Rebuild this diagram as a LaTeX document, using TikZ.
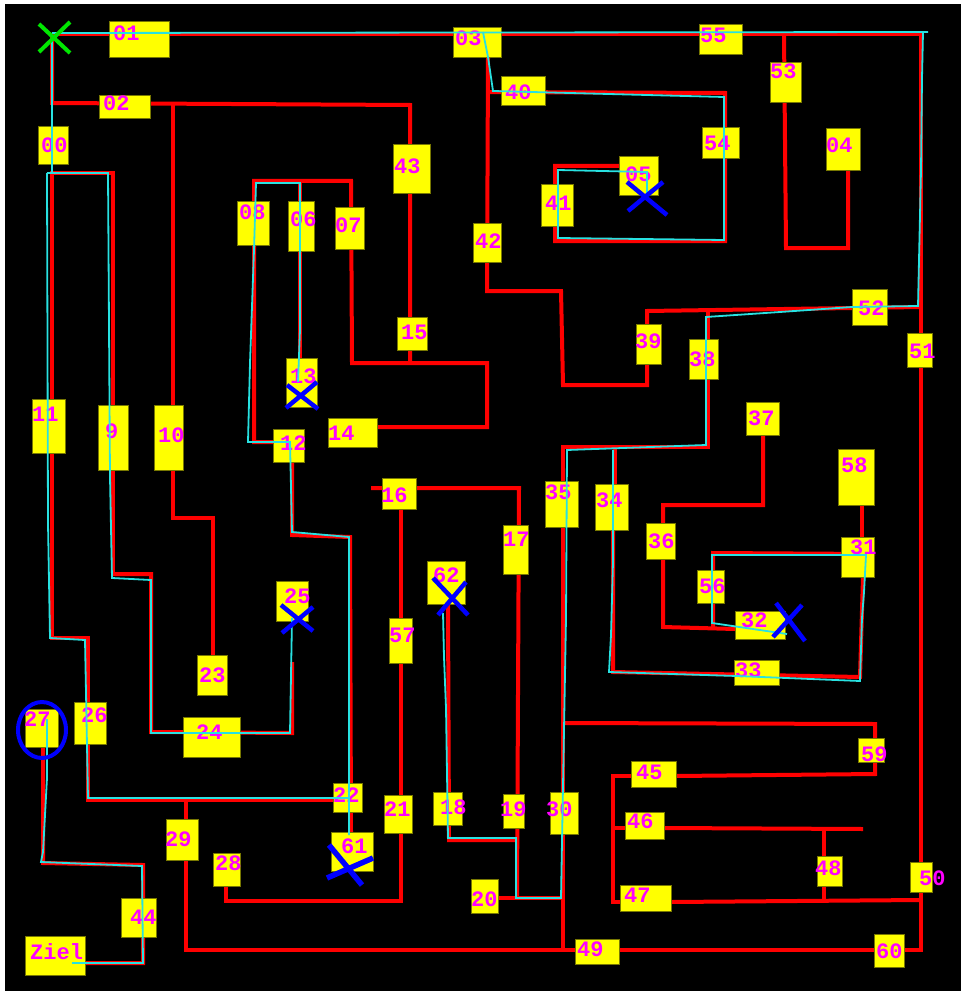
\documentclass[tikz,border=0pt]{standalone}
\usepackage{fontspec}
\newfontfamily\feldfont{Liberation Mono}
\usepackage{tikz}

\definecolor{wand}{RGB}{255,0,0}
\definecolor{weg}{RGB}{40,225,225}
\definecolor{feldgelb}{RGB}{255,255,0}
\definecolor{feldrand}{RGB}{120,120,0}
\definecolor{schrift}{RGB}{255,0,255}
\definecolor{sackgasse}{RGB}{0,0,255}
\definecolor{startgruen}{RGB}{0,230,0}

\begin{document}
\begin{tikzpicture}[x=1pt,y=-1pt,
  wall/.style={wand,line width=4pt,line join=miter},
  weglinie/.style={weg,line width=1.8pt},
  feld/.style={fill=feldgelb,draw=feldrand,line width=0.8pt},
  lbl/.style={text=schrift,font={\feldfont\bfseries\fontsize{22}{22}\selectfont},
    inner sep=0pt,anchor=base west,xshift=-2pt},
  kreuz/.style={sackgasse,line width=4.5pt}]
  \useasboundingbox (0,0) rectangle (962,992);
  \fill[white] (0,0) rectangle (962,992);
  \fill[black] (5,4) rectangle (961,991);

  % Walls of the maze
  \draw[wall] (52,34) -- (921,34) -- (921,950) -- (186,950) -- (186,800);
  \draw[wall] (52,34) -- (52,103) -- (410,105) -- (410,363);
  \draw[wall] (173,103) -- (173,518) -- (213,518) -- (213,655);
  \draw[wall] (113,574) -- (113,173) -- (52,173) -- (52,638) -- (88,638) -- (88,800) -- (333,800);
  \draw[wall] (113,574) -- (151,574) -- (151,732) -- (292,733) -- (292,662);
  \draw[wall] (280,442) -- (254,442) -- (254,181) -- (351,181) -- (352,363) -- (487,363)
    -- (487,427) -- (377,427);
  \draw[wall] (300,181) -- (300,358);
  \draw[wall] (292,462) -- (292,535) -- (350,537) -- (351,832);
  \draw[wall] (226,886) -- (226,901) -- (401,901) -- (401,488);
  \draw[wall] (371,488) -- (519,488) -- (517,898);
  \draw[wall] (498,898) -- (563,898);
  \draw[wall] (448,604) -- (449,840) -- (517,840);
  \draw[wall] (563,950) -- (563,447) -- (708,447) -- (708,311);
  \draw[wall] (921,307) -- (647,311) -- (647,385) -- (563,385) -- (561,291) -- (487,291) -- (488,57);
  \draw[wall] (488,92) -- (725,93) -- (725,241) -- (555,241) -- (555,166) -- (619,166);
  \draw[wall] (784,34) -- (786,248) -- (848,248) -- (848,170);
  \draw[wall] (763,435) -- (763,505) -- (663,505) -- (663,627) -- (735,629);
  \draw[wall] (713,628) -- (713,553) -- (875,554);
  \draw[wall] (862,505) -- (862,537);
  \draw[wall] (863,577) -- (860,677) -- (613,672) -- (613,530);
  \draw[wall] (615,447) -- (615,484);
  \draw[wall] (563,723) -- (875,724) -- (875,738);
  \draw[wall] (631,776) -- (613,776) -- (613,902) -- (620,902);
  \draw[wall] (676,776) -- (875,774) -- (875,762);
  \draw[wall] (613,828) -- (625,828);
  \draw[wall] (664,828) -- (863,829);
  \draw[wall] (824,828) -- (824,856);
  \draw[wall] (824,886) -- (824,899);
  \draw[wall] (671,902) -- (921,900);
  \draw[wall] (43,747) -- (43,863) -- (143,865) -- (143,963) -- (85,963);

  % Fields
  \foreach \n/\xa/\ya/\xb/\yb/\tx/\ty in {
      01/109/21/169/57/115/41, 02/99/95/150/118/105/111, 00/38/126/68/164/43/153,
      08/237/201/269/245/241/219, 06/288/201/314/251/292/226, 03/453/27/501/57/457/46,
      40/501/76/545/105/507/100, 43/393/144/430/193/396/174, 07/335/207/364/249/337/233,
      42/473/223/501/262/477/248, 41/541/184/573/226/547/211, 05/619/156/658/195/627/182,
      55/699/24/742/54/702/43, 53/770/62/801/102/772/79, 54/702/127/739/158/706/151,
      04/826/128/860/170/828/153, 11/32/399/65/453/34/421, 9/98/405/128/470/107/438,
      10/154/405/183/470/160/442, 13/286/358/317/407/292/383, 12/273/429/304/462/282/450,
      15/397/317/427/350/403/339, 14/328/418/377/447/330/440, 16/382/478/416/509/383/502,
      39/636/324/661/364/637/348, 35/545/481/578/527/547/499, 34/595/484/628/530/598/507,
      52/852/289/887/325/860/315, 38/689/339/718/379/691/366, 51/907/333/932/367/911/358,
      37/746/402/779/435/750/425, 58/838/449/874/505/843/472, 25/276/581/308/621/286/603,
      23/197/655/227/695/201/682, 27/25/709/58/747/26/726, 26/74/702/106/744/83/722,
      24/183/717/240/757/198/739, 17/503/525/528/574/505/546, 62/427/561/465/604/435/582,
      57/389/618/412/663/391/642, 36/646/523/675/559/650/548, 31/841/537/874/577/852/554,
      56/697/570/724/603/701/593, 32/735/611/785/639/743/627, 33/734/660/779/685/737/677,
      59/858/738/884/762/863/761, 45/631/761/676/787/638/779, 46/625/812/664/839/629/828,
      47/620/885/671/911/626/902, 48/817/856/842/886/817/875, 50/910/862/932/892/921/885,
      60/874/934/904/967/878/958, 29/166/819/198/860/167/846, 28/213/853/240/886/217/870,
      44/121/898/156/937/132/924, Ziel/25/936/85/975/32/959, 22/333/783/362/812/335/802,
      21/384/795/412/833/386/816, 61/331/832/373/871/343/853, 18/433/792/462/825/442/814,
      19/503/794/524/828/502/816, 30/550/792/578/834/548/816, 20/471/879/498/913/473/906,
      49/575/939/619/964/579/956}
  {
    \filldraw[feld] (\xa,\ya) rectangle (\xb,\yb);
    \node[lbl] (f\n) at (\tx,\ty) {\n};
  }

  % Path that was walked
  \draw[weglinie] (52,33) -- (928,32);
  \draw[weglinie] (923,32) -- (922,78) -- (921,170) -- (919,260) -- (918,306) -- (852,307)
    -- (780,312) -- (706,317) -- (706,445) -- (567,450) -- (566,618) -- (564,730) -- (562,842)
    -- (561,898) -- (516,898) -- (516,838) -- (448,838) -- (446,708) -- (444,657) -- (443,613);
  \draw[weglinie] (52,33) -- (52,173);
  \draw[weglinie] (47,173) -- (108,173) -- (110,477) -- (112,578) -- (151,580) -- (151,733)
    -- (290,733) -- (292,618);
  \draw[weglinie] (47,173) -- (48,523) -- (50,638) -- (85,640) -- (88,798) -- (349,798);
  \draw[weglinie] (349,835) -- (349,537) -- (292,532) -- (290,442) -- (248,442) -- (250,363)
    -- (254,250) -- (256,183) -- (300,183) -- (300,330) -- (298,382);
  \draw[weglinie] (483,32) -- (488,57) -- (493,91) -- (724,97) -- (724,240) -- (558,238)
    -- (558,170) -- (647,172) -- (647,193);
  \draw[weglinie] (613,450) -- (613,562) -- (611,635) -- (609,672) -- (737,676) -- (860,681)
    -- (862,618) -- (864,592) -- (866,555) -- (712,555) -- (712,623) -- (787,634);
  \draw[weglinie] (47,719) -- (47,778) -- (43,852) -- (41,862) -- (142,866) -- (143,963) -- (72,963);

  % Dead ends, start and current field
  \draw[kreuz] (627,182) -- (667,215) (663,182) -- (628,211);
  \draw[kreuz] (287,385) -- (318,409) (317,382) -- (286,408);
  \draw[kreuz] (281,605) -- (313,631) (313,607) -- (282,633);
  \draw[kreuz] (433,578) -- (468,615) (466,582) -- (438,615);
  \draw[kreuz] (776,603) -- (805,641) (802,605) -- (773,637);
  \draw[kreuz,line width=5.5pt] (329,845) -- (362,885) (373,858) -- (327,878);
  \draw[startgruen,line width=4pt] (39,24) -- (70,53) (70,22) -- (39,52);
  \draw[sackgasse,line width=4pt] (42,730) ellipse [x radius=24,y radius=28];
\end{tikzpicture}
\end{document}
